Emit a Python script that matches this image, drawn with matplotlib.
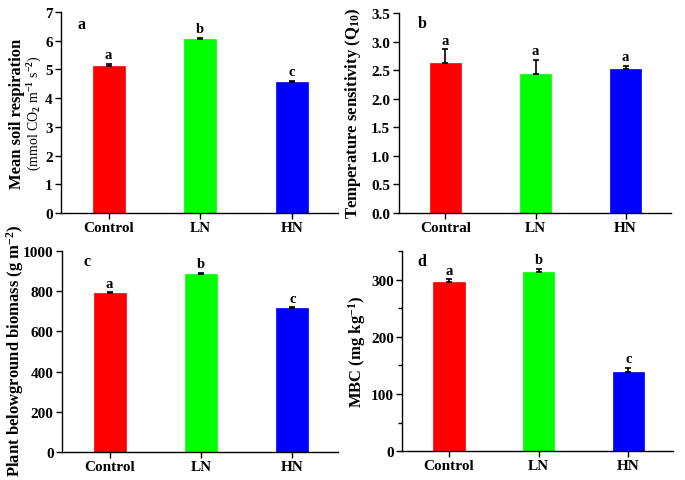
import matplotlib
matplotlib.use('Agg')
import matplotlib.pyplot as plt
from matplotlib.ticker import MultipleLocator

# --- data ---
groups_ab = ['Control', 'LN', 'HN']
groups_b = ['Contral', 'LN', 'HN']

resp_mean = [5.13, 6.05, 4.56]
resp_err = [0.07, 0.06, 0.05]
resp_sig = ['a', 'b', 'c']

q10_mean = [2.62, 2.44, 2.52]
q10_err = [0.25, 0.24, 0.06]
q10_sig = ['a', 'a', 'a']

biomass_mean = [789, 888, 718]
biomass_err = [5, 4, 4]
biomass_sig = ['a', 'b', 'c']

mbc_mean = [295, 314, 139]
mbc_err = [6, 5, 7]
mbc_sig = ['a', 'b', 'c']

colors = ['#FF0000', '#00FF00', '#0000FF']
FONT = 'Liberation Serif'

plt.rcParams['font.family'] = FONT
plt.rcParams['font.weight'] = 'bold'
plt.rcParams['mathtext.fontset'] = 'custom'
plt.rcParams['mathtext.rm'] = FONT + ':bold'
plt.rcParams['mathtext.it'] = FONT + ':bold'
plt.rcParams['mathtext.bf'] = FONT + ':bold'

fig = plt.figure(figsize=(6.85, 4.81), dpi=100)
fig.patch.set_facecolor('white')

panels = [
    # rect, labels, means, errs, sig, ylim, major step, minor step, panel letter pos
    ([0.089, 0.555, 0.404, 0.418], groups_ab, resp_mean, resp_err, resp_sig,
     (0, 7), 1, None, 'a', (0.076, 0.94), '%d'),
    ([0.582, 0.555, 0.397, 0.416], groups_b, q10_mean, q10_err, q10_sig,
     (0, 3.5), 0.5, None, 'b', (0.088, 0.95), '%.1f'),
    ([0.0905, 0.058, 0.403, 0.418], groups_ab, biomass_mean, biomass_err, biomass_sig,
     (0, 1000), 200, None, 'c', (0.09, 0.95), '%d'),
    ([0.587, 0.060, 0.396, 0.416], groups_ab, mbc_mean, mbc_err, mbc_sig,
     (0, 350), 100, 50, 'd', (0.074, 0.95), '%d'),
]

axes = []
for rect, labels, means, errs, sig, ylim, step, minor, letter, lpos, fmt in panels:
    ax = fig.add_axes(rect)
    x = range(len(labels))
    ax.bar(x, means, width=0.35, color=colors, edgecolor=colors, linewidth=0.5,
           yerr=[[0] * len(errs), errs], capsize=2.5,
           error_kw=dict(ecolor='black', elinewidth=1.2, capthick=1.2))
    ax.set_xlim(-0.52, 2.5)
    ax.set_ylim(*ylim)
    ax.yaxis.set_major_locator(MultipleLocator(step))
    if minor:
        ax.yaxis.set_minor_locator(MultipleLocator(minor))
    ax.yaxis.set_major_formatter(plt.FormatStrFormatter(fmt))
    ax.set_xticks(list(x))
    ax.set_xticklabels(labels)
    for s in ['top', 'right']:
        ax.spines[s].set_visible(False)
    for s in ['left', 'bottom']:
        ax.spines[s].set_linewidth(1.0)
    ax.tick_params(axis='both', which='major', direction='out', length=4, width=1,
                   labelsize=11, pad=2)
    ax.tick_params(axis='y', which='minor', direction='out', length=3, width=1)
    for t in ax.get_xticklabels() + ax.get_yticklabels():
        t.set_fontweight('bold')
    span = ylim[1] - ylim[0]
    for xi, m, e, s in zip(x, means, errs, sig):
        ax.text(xi, m + e + span * 0.012, s, ha='center', va='bottom',
                fontsize=10.5, fontweight='bold')
    ax.text(lpos[0], lpos[1], letter, transform=ax.transAxes, ha='center',
            va='center', fontsize=11.5, fontweight='bold')
    axes.append(ax)

# y labels
fig.text(0.025, 0.764, 'Mean soil respiration', rotation=90, ha='center',
         va='center', fontsize=12, fontweight='bold')
fig.text(0.051, 0.764, r'(mmol CO$_2$ m$^{-1}$ s$^{-2}$)', rotation=90,
         ha='center', va='center', fontsize=10, fontweight='normal')

fig.text(0.516, 0.764, r'Temperature sensitivity (Q$_{10}$)',
         rotation=90, ha='center', va='center', fontsize=12, fontweight='bold')

fig.text(0.022, 0.27, r'Plant belowground biomass (g m$^{-2}$)', rotation=90,
         ha='center', va='center', fontsize=12, fontweight='bold')

fig.text(0.521, 0.268, r'MBC (mg kg$^{-1}$)', rotation=90, ha='center',
         va='center', fontsize=12, fontweight='bold')

fig.savefig('out.png', dpi=100, facecolor='white')
